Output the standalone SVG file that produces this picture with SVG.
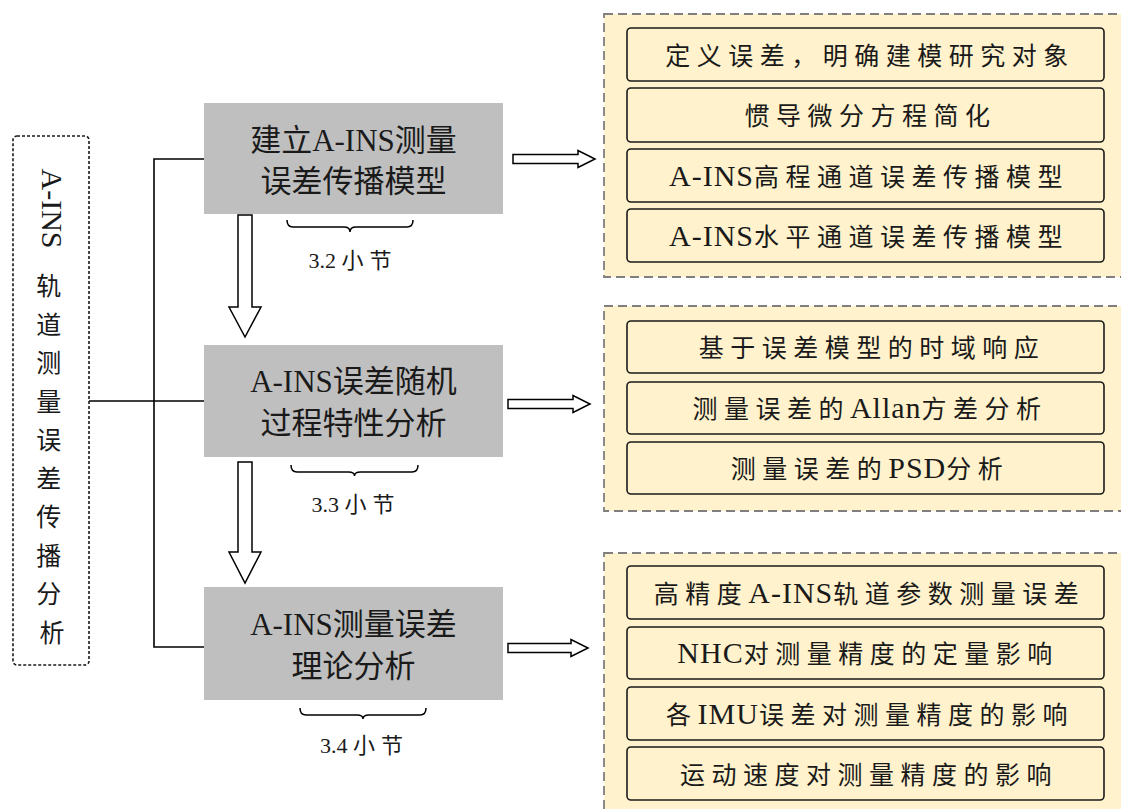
<svg xmlns="http://www.w3.org/2000/svg" width="1121" height="809" viewBox="0 0 1121 809">
<style>
.bg{fill:#ffffff}
.main{fill:#bfbfbf}
.mt{font-family:"Liberation Serif","Noto Sans CJK SC",serif;font-size:31px;fill:#1a1a1a;text-anchor:middle}
.panel{fill:#fff2cc;stroke:#7f7f7f;stroke-width:1.8;stroke-dasharray:9 5}
.item{fill:#fff2cc;stroke:#1a1a1a;stroke-width:1.6}
.it{font-family:"Liberation Serif","Noto Sans CJK SC",serif;font-size:25px;letter-spacing:6.5px;fill:#1a1a1a;text-anchor:middle}
.lat{font-size:30px;letter-spacing:1px}
.lbl{font-family:"Liberation Serif","Noto Sans CJK SC",serif;font-size:22px;fill:#1a1a1a;text-anchor:middle}
.cj{letter-spacing:6px}
.side{fill:none;stroke:#1a1a1a;stroke-width:1.6;stroke-dasharray:3 2}
.st{font-family:"Liberation Serif","Noto Sans CJK SC",serif;font-size:25px;fill:#1a1a1a;text-anchor:middle}
.ln{fill:none;stroke:#000;stroke-width:1.6}
.arr{fill:#fff;stroke:#000;stroke-width:1.5;stroke-linejoin:miter}
.brace{fill:none;stroke:#000;stroke-width:1.5}
</style>
<rect class="bg" x="0" y="0" width="1121" height="809"/>

<g id="connectors">
<polyline class="ln" points="204,159 154,159 154,647 204,647"/>
<line class="ln" x1="89" y1="401" x2="204" y2="401"/>
<polygon class="arr" points="513,154.5 578,154.5 578,150.5 595,159 578,167.5 578,163.5 513,163.5"/>
<polygon class="arr" points="508,399.5 573,399.5 573,395.5 590,404 573,412.5 573,408.5 508,408.5"/>
<polygon class="arr" points="508,643.5 571,643.5 571,639.5 588,648 571,656.5 571,652.5 508,652.5"/>
<polygon class="arr" points="238,215 252,215 252,307 261,307 245,337 229,307 238,307"/>
<polygon class="arr" points="238,462 252,462 252,552 261,552 245,583 229,552 238,552"/>
</g>

<g id="side">
<rect class="side" x="13" y="136" width="76" height="529" rx="4"/>
<text class="st" style="font-size:30px" transform="translate(52,208.5) rotate(90)" x="0" y="10">A-INS</text>
<text class="st">
<tspan x="52" y="295">轨</tspan>
<tspan x="52" y="333.5">道</tspan>
<tspan x="52" y="372">测</tspan>
<tspan x="52" y="410.5">量</tspan>
<tspan x="52" y="449">误</tspan>
<tspan x="52" y="487.5">差</tspan>
<tspan x="52" y="526">传</tspan>
<tspan x="52" y="564.5">播</tspan>
<tspan x="52" y="603">分</tspan>
<tspan x="52" y="641.5">析</tspan>
</text>
</g>

<g id="node1">
<rect class="main" x="204" y="103" width="299" height="111"/>
<text class="mt" x="353.5" y="151">建立A-INS测量</text>
<text class="mt" x="353.5" y="192">误差传播模型</text>
<path class="brace" d="M287,220 Q287,227 293,227 L344,227 Q350,227 350,232 Q350,227 356,227 L407,227 Q413,227 413,220"/>
<text class="lbl" x="353" y="268">3.2 <tspan class="cj">小节</tspan></text>
</g>

<g id="node2">
<rect class="main" x="204" y="345" width="299" height="112"/>
<text class="mt" x="353.5" y="392">A-INS误差随机</text>
<text class="mt" x="353.5" y="434">过程特性分析</text>
<path class="brace" d="M291,465 Q291,472 297,472 L348.5,472 Q354.5,472 354.5,476 Q354.5,472 360.5,472 L412,472 Q418,472 418,465"/>
<text class="lbl" x="356" y="512">3.3 <tspan class="cj">小节</tspan></text>
</g>

<g id="node3">
<rect class="main" x="204" y="587" width="299" height="113"/>
<text class="mt" x="353.5" y="635">A-INS测量误差</text>
<text class="mt" x="353.5" y="677">理论分析</text>
<path class="brace" d="M300,708 Q300,715 306,715 L357,715 Q363,715 363,719 Q363,715 369,715 L420,715 Q426,715 426,708"/>
<text class="lbl" x="364.5" y="753">3.4 <tspan class="cj">小节</tspan></text>
</g>

<g id="panel1">
<rect class="panel" x="604" y="14" width="530" height="263"/>
<rect class="item" x="627" y="28" width="477" height="53" rx="4"/>
<rect class="item" x="627" y="88" width="477" height="54" rx="4"/>
<rect class="item" x="627" y="149" width="477" height="53" rx="4"/>
<rect class="item" x="627" y="209" width="477" height="53" rx="4"/>
<text class="it" x="870" y="64.5">定义误差，明确建模研究对象</text>
<text class="it" x="870.5" y="125">惯导微分方程简化</text>
<text class="it" x="869" y="185.5"><tspan class="lat">A-INS</tspan>高程通道误差传播模型</text>
<text class="it" x="869" y="245.5"><tspan class="lat">A-INS</tspan>水平通道误差传播模型</text>
</g>

<g id="panel2">
<rect class="panel" x="604" y="306" width="530" height="205"/>
<rect class="item" x="627" y="321" width="477" height="52" rx="4"/>
<rect class="item" x="627" y="382" width="477" height="52" rx="4"/>
<rect class="item" x="627" y="442" width="477" height="52" rx="4"/>
<text class="it" x="872" y="357">基于误差模型的时域响应</text>
<text class="it" x="870" y="418">测量误差的<tspan class="lat">Allan</tspan>方差分析</text>
<text class="it" x="870" y="478">测量误差的<tspan class="lat">PSD</tspan>分析</text>
</g>

<g id="panel3">
<rect class="panel" x="604" y="553" width="530" height="270"/>
<rect class="item" x="627" y="566" width="477" height="53" rx="4"/>
<rect class="item" x="627" y="627" width="477" height="52" rx="4"/>
<rect class="item" x="627" y="687" width="477" height="53" rx="4"/>
<rect class="item" x="627" y="747" width="477" height="53" rx="4"/>
<text class="it" x="869.5" y="602.5">高精度<tspan class="lat">A-INS</tspan>轨道参数测量误差</text>
<text class="it" x="868" y="663"><tspan class="lat">NHC</tspan>对测量精度的定量影响</text>
<text class="it" x="870" y="723.5">各<tspan class="lat">IMU</tspan>误差对测量精度的影响</text>
<text class="it" x="869" y="783.5">运动速度对测量精度的影响</text>
</g>
</svg>
